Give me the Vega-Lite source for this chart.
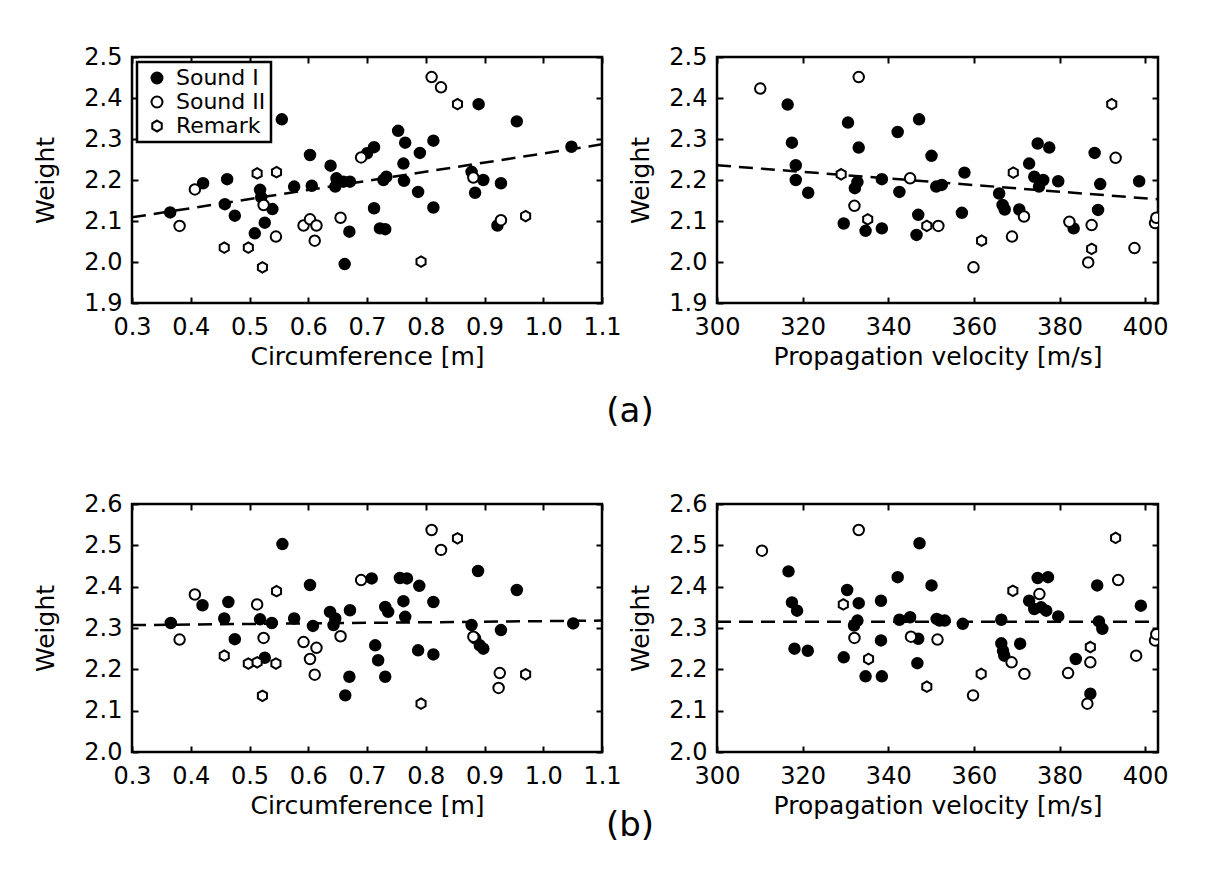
{
  "$schema": "https://vega.github.io/schema/vega-lite/v6.json",
  "background": "white",
  "padding": {"left": 32, "top": 43, "right": 5, "bottom": 5},
  "config": {
    "font": "DejaVu Sans",
    "view": {"stroke": "black", "strokeWidth": 2.5},
    "axis": {"grid": false, "domain": false, "ticks": true, "tickSize": -6, "tickWidth": 2, "tickColor": "black", "labelFont": "DejaVu Sans", "labelFontSize": 24, "labelColor": "black", "labelPadding": 16, "labelOverlap": false, "labelFlush": false, "titleFont": "DejaVu Sans", "titleFontSize": 25, "titleFontWeight": "normal", "titleColor": "black"},
    "axisX": {"titlePadding": 5, "labelPadding": 18},
    "axisY": {"titlePadding": 15},
    "legend": {"labelFont": "DejaVu Sans", "labelFontSize": 22, "labelColor": "black", "strokeColor": "black", "strokeWidth": 2.5, "fillColor": "white", "padding": 5, "rowPadding": 2, "symbolSize": 120, "symbolStrokeWidth": 2, "symbolOffset": 4, "labelOffset": 8, "cornerRadius": 0},
    "title": {"font": "DejaVu Sans", "fontWeight": "normal", "color": "black"}
  },
  "bounds": "flush",
  "columns": 2,
  "spacing": {"row": 201, "column": 115},
  "resolve": {"scale": {"fill": "independent", "shape": "independent", "stroke": "independent"}},
  "concat": [
    {
      "width": 470, "height": 246,
      "title": {"text": "(a)", "orient": "bottom", "anchor": "end", "align": "center", "frame": "group", "fontSize": 34, "offset": 26, "dx": 28},
      "resolve": {"axis": {"x": "independent", "y": "independent"}},
      "layer": [
        {
          "data": {"name": "tl_line"},
          "mark": {"type": "line", "color": "black", "strokeWidth": 2.5, "strokeDash": [14, 8], "clip": true},
          "encoding": {
            "x": {"field": "x", "type": "quantitative", "scale": {"domain": [0.3, 1.1], "nice": false, "zero": false}, "axis": {"orient": "bottom", "values": [0.3,0.4,0.5,0.6,0.7,0.8,0.9,1.0,1.1], "format": ".1f", "title": "Circumference [m]"}},
            "y": {"field": "y", "type": "quantitative", "scale": {"domain": [1.9, 2.5], "nice": false, "zero": false}, "axis": {"orient": "left", "values": [1.9,2.0,2.1,2.2,2.3,2.4,2.5], "format": ".1f", "title": "Weight", "titlePadding": 25}}
          }
        },
        {
          "data": {"name": "tl_pts"},
          "mark": {"type": "point", "filled": true, "strokeWidth": 2, "size": 110, "opacity": 1, "clip": true},
          "encoding": {
            "x": {"field": "x", "type": "quantitative", "scale": {"domain": [0.3, 1.1], "nice": false, "zero": false}, "axis": {"orient": "top", "values": [0.3,0.4,0.5,0.6,0.7,0.8,0.9,1.0,1.1], "labels": false, "title": null}},
            "y": {"field": "y", "type": "quantitative", "scale": {"domain": [1.9, 2.5], "nice": false, "zero": false}, "axis": {"orient": "right", "values": [1.9,2.0,2.1,2.2,2.3,2.4,2.5], "labels": false, "title": null}},
            "fill": {"field": "t", "type": "nominal", "scale": {"domain": ["Sound I", "Sound II", "Remark"], "range": ["black", "white", "white"]}, "legend": {"orient": "top-left", "offset": 5, "title": null}},
            "stroke": {"field": "t", "type": "nominal", "scale": {"domain": ["Sound I", "Sound II", "Remark"], "range": ["black", "black", "black"]}, "legend": {"orient": "top-left", "offset": 5, "title": null}},
            "shape": {"field": "t", "type": "nominal", "scale": {"domain": ["Sound I", "Sound II", "Remark"], "range": ["circle", "circle", "M0,-1L0.866,-0.5L0.866,0.5L0,1L-0.866,0.5L-0.866,-0.5Z"]}, "legend": {"orient": "top-left", "offset": 5, "title": null}}
          }
        }
      ]
    },
    {
      "width": 441, "height": 246,
      "resolve": {"axis": {"x": "independent", "y": "independent"}},
      "layer": [
        {
          "data": {"name": "tr_line"},
          "mark": {"type": "line", "color": "black", "strokeWidth": 2.5, "strokeDash": [14, 8], "clip": true},
          "encoding": {
            "x": {"field": "x", "type": "quantitative", "scale": {"domain": [300, 403], "nice": false, "zero": false}, "axis": {"orient": "bottom", "values": [300,320,340,360,380,400], "title": "Propagation velocity [m/s]"}},
            "y": {"field": "y", "type": "quantitative", "scale": {"domain": [1.9, 2.5], "nice": false, "zero": false}, "axis": {"orient": "left", "values": [1.9,2.0,2.1,2.2,2.3,2.4,2.5], "format": ".1f", "title": "Weight"}}
          }
        },
        {
          "data": {"name": "tr_pts"},
          "mark": {"type": "point", "filled": true, "strokeWidth": 2, "size": 110, "opacity": 1, "clip": true},
          "encoding": {
            "x": {"field": "x", "type": "quantitative", "scale": {"domain": [300, 403], "nice": false, "zero": false}, "axis": {"orient": "top", "values": [300,320,340,360,380,400], "labels": false, "title": null}},
            "y": {"field": "y", "type": "quantitative", "scale": {"domain": [1.9, 2.5], "nice": false, "zero": false}, "axis": {"orient": "right", "values": [1.9,2.0,2.1,2.2,2.3,2.4,2.5], "labels": false, "title": null}},
            "fill": {"field": "t", "type": "nominal", "scale": {"domain": ["Sound I", "Sound II", "Remark"], "range": ["black", "white", "white"]}, "legend": null},
            "stroke": {"field": "t", "type": "nominal", "scale": {"domain": ["Sound I", "Sound II", "Remark"], "range": ["black", "black", "black"]}, "legend": null},
            "shape": {"field": "t", "type": "nominal", "scale": {"domain": ["Sound I", "Sound II", "Remark"], "range": ["circle", "circle", "M0,-1L0.866,-0.5L0.866,0.5L0,1L-0.866,0.5L-0.866,-0.5Z"]}, "legend": null}
          }
        }
      ]
    },
    {
      "width": 470, "height": 248,
      "title": {"text": "(b)", "orient": "bottom", "anchor": "end", "align": "center", "frame": "group", "fontSize": 34, "offset": -9, "dx": 28},
      "resolve": {"axis": {"x": "independent", "y": "independent"}},
      "layer": [
        {
          "data": {"name": "bl_line"},
          "mark": {"type": "line", "color": "black", "strokeWidth": 2.5, "strokeDash": [14, 8], "clip": true},
          "encoding": {
            "x": {"field": "x", "type": "quantitative", "scale": {"domain": [0.3, 1.1], "nice": false, "zero": false}, "axis": {"orient": "bottom", "values": [0.3,0.4,0.5,0.6,0.7,0.8,0.9,1.0,1.1], "format": ".1f", "title": "Circumference [m]"}},
            "y": {"field": "y", "type": "quantitative", "scale": {"domain": [2.0, 2.6], "nice": false, "zero": false}, "axis": {"orient": "left", "values": [2.0,2.1,2.2,2.3,2.4,2.5,2.6], "format": ".1f", "title": "Weight", "titlePadding": 25}}
          }
        },
        {
          "data": {"name": "bl_pts"},
          "mark": {"type": "point", "filled": true, "strokeWidth": 2, "size": 110, "opacity": 1, "clip": true},
          "encoding": {
            "x": {"field": "x", "type": "quantitative", "scale": {"domain": [0.3, 1.1], "nice": false, "zero": false}, "axis": {"orient": "top", "values": [0.3,0.4,0.5,0.6,0.7,0.8,0.9,1.0,1.1], "labels": false, "title": null}},
            "y": {"field": "y", "type": "quantitative", "scale": {"domain": [2.0, 2.6], "nice": false, "zero": false}, "axis": {"orient": "right", "values": [2.0,2.1,2.2,2.3,2.4,2.5,2.6], "labels": false, "title": null}},
            "fill": {"field": "t", "type": "nominal", "scale": {"domain": ["Sound I", "Sound II", "Remark"], "range": ["black", "white", "white"]}, "legend": null},
            "stroke": {"field": "t", "type": "nominal", "scale": {"domain": ["Sound I", "Sound II", "Remark"], "range": ["black", "black", "black"]}, "legend": null},
            "shape": {"field": "t", "type": "nominal", "scale": {"domain": ["Sound I", "Sound II", "Remark"], "range": ["circle", "circle", "M0,-1L0.866,-0.5L0.866,0.5L0,1L-0.866,0.5L-0.866,-0.5Z"]}, "legend": null}
          }
        }
      ]
    },
    {
      "width": 441, "height": 248,
      "resolve": {"axis": {"x": "independent", "y": "independent"}},
      "layer": [
        {
          "data": {"name": "br_line"},
          "mark": {"type": "line", "color": "black", "strokeWidth": 2.5, "strokeDash": [14, 8], "clip": true},
          "encoding": {
            "x": {"field": "x", "type": "quantitative", "scale": {"domain": [300, 403], "nice": false, "zero": false}, "axis": {"orient": "bottom", "values": [300,320,340,360,380,400], "title": "Propagation velocity [m/s]"}},
            "y": {"field": "y", "type": "quantitative", "scale": {"domain": [2.0, 2.6], "nice": false, "zero": false}, "axis": {"orient": "left", "values": [2.0,2.1,2.2,2.3,2.4,2.5,2.6], "format": ".1f", "title": "Weight"}}
          }
        },
        {
          "data": {"name": "br_pts"},
          "mark": {"type": "point", "filled": true, "strokeWidth": 2, "size": 110, "opacity": 1, "clip": true},
          "encoding": {
            "x": {"field": "x", "type": "quantitative", "scale": {"domain": [300, 403], "nice": false, "zero": false}, "axis": {"orient": "top", "values": [300,320,340,360,380,400], "labels": false, "title": null}},
            "y": {"field": "y", "type": "quantitative", "scale": {"domain": [2.0, 2.6], "nice": false, "zero": false}, "axis": {"orient": "right", "values": [2.0,2.1,2.2,2.3,2.4,2.5,2.6], "labels": false, "title": null}},
            "fill": {"field": "t", "type": "nominal", "scale": {"domain": ["Sound I", "Sound II", "Remark"], "range": ["black", "white", "white"]}, "legend": null},
            "stroke": {"field": "t", "type": "nominal", "scale": {"domain": ["Sound I", "Sound II", "Remark"], "range": ["black", "black", "black"]}, "legend": null},
            "shape": {"field": "t", "type": "nominal", "scale": {"domain": ["Sound I", "Sound II", "Remark"], "range": ["circle", "circle", "M0,-1L0.866,-0.5L0.866,0.5L0,1L-0.866,0.5L-0.866,-0.5Z"]}, "legend": null}
          }
        }
      ]
    }
  ],
  "datasets": {
    "tl_line": [{"x": 0.3, "y": 2.109}, {"x": 1.1, "y": 2.287}],
    "tr_line": [{"x": 300, "y": 2.236}, {"x": 403, "y": 2.153}],
    "bl_line": [{"x": 0.3, "y": 2.307}, {"x": 1.1, "y": 2.318}],
    "br_line": [{"x": 300, "y": 2.315}, {"x": 403, "y": 2.315}],
    "tl_pts": [
      {"x": 0.365, "y": 2.121, "t": "Sound I"}, {"x": 0.421, "y": 2.192, "t": "Sound I"}, {"x": 0.462, "y": 2.202, "t": "Sound I"},
      {"x": 0.458, "y": 2.141, "t": "Sound I"}, {"x": 0.475, "y": 2.113, "t": "Sound I"}, {"x": 0.518, "y": 2.176, "t": "Sound I"},
      {"x": 0.520, "y": 2.158, "t": "Sound I"}, {"x": 0.539, "y": 2.129, "t": "Sound I"}, {"x": 0.526, "y": 2.096, "t": "Sound I"},
      {"x": 0.509, "y": 2.070, "t": "Sound I"}, {"x": 0.555, "y": 2.348, "t": "Sound I"}, {"x": 0.576, "y": 2.184, "t": "Sound I"},
      {"x": 0.606, "y": 2.186, "t": "Sound I"}, {"x": 0.603, "y": 2.261, "t": "Sound I"}, {"x": 0.638, "y": 2.235, "t": "Sound I"},
      {"x": 0.648, "y": 2.204, "t": "Sound I"}, {"x": 0.660, "y": 2.196, "t": "Sound I"}, {"x": 0.671, "y": 2.196, "t": "Sound I"},
      {"x": 0.646, "y": 2.184, "t": "Sound I"}, {"x": 0.670, "y": 2.074, "t": "Sound I"}, {"x": 0.662, "y": 1.995, "t": "Sound I"},
      {"x": 0.700, "y": 2.265, "t": "Sound I"}, {"x": 0.712, "y": 2.280, "t": "Sound I"}, {"x": 0.753, "y": 2.320, "t": "Sound I"},
      {"x": 0.765, "y": 2.291, "t": "Sound I"}, {"x": 0.790, "y": 2.266, "t": "Sound I"}, {"x": 0.813, "y": 2.296, "t": "Sound I"},
      {"x": 0.762, "y": 2.240, "t": "Sound I"}, {"x": 0.733, "y": 2.208, "t": "Sound I"}, {"x": 0.728, "y": 2.200, "t": "Sound I"},
      {"x": 0.763, "y": 2.198, "t": "Sound I"}, {"x": 0.787, "y": 2.171, "t": "Sound I"}, {"x": 0.813, "y": 2.133, "t": "Sound I"},
      {"x": 0.712, "y": 2.131, "t": "Sound I"}, {"x": 0.722, "y": 2.082, "t": "Sound I"}, {"x": 0.731, "y": 2.080, "t": "Sound I"},
      {"x": 0.890, "y": 2.385, "t": "Sound I"}, {"x": 0.955, "y": 2.343, "t": "Sound I"}, {"x": 1.048, "y": 2.281, "t": "Sound I"},
      {"x": 0.878, "y": 2.220, "t": "Sound I"}, {"x": 0.898, "y": 2.200, "t": "Sound I"}, {"x": 0.884, "y": 2.169, "t": "Sound I"},
      {"x": 0.928, "y": 2.192, "t": "Sound I"}, {"x": 0.922, "y": 2.089, "t": "Sound I"},
      {"x": 0.407, "y": 2.177, "t": "Sound II"}, {"x": 0.381, "y": 2.088, "t": "Sound II"}, {"x": 0.457, "y": 2.035, "t": "Remark"},
      {"x": 0.498, "y": 2.035, "t": "Remark"}, {"x": 0.522, "y": 1.987, "t": "Remark"}, {"x": 0.513, "y": 2.216, "t": "Remark"},
      {"x": 0.546, "y": 2.219, "t": "Remark"}, {"x": 0.524, "y": 2.139, "t": "Sound II"}, {"x": 0.545, "y": 2.062, "t": "Sound II"},
      {"x": 0.592, "y": 2.089, "t": "Sound II"}, {"x": 0.603, "y": 2.104, "t": "Sound II"}, {"x": 0.614, "y": 2.089, "t": "Sound II"},
      {"x": 0.611, "y": 2.052, "t": "Sound II"}, {"x": 0.655, "y": 2.108, "t": "Sound II"}, {"x": 0.690, "y": 2.255, "t": "Sound II"},
      {"x": 0.810, "y": 2.451, "t": "Sound II"}, {"x": 0.826, "y": 2.426, "t": "Sound II"}, {"x": 0.854, "y": 2.385, "t": "Remark"},
      {"x": 0.881, "y": 2.206, "t": "Sound II"}, {"x": 0.928, "y": 2.102, "t": "Sound II"}, {"x": 0.970, "y": 2.112, "t": "Remark"},
      {"x": 0.792, "y": 2.001, "t": "Remark"}
    ],
    "tr_pts": [
      {"x": 316.5, "y": 2.384, "t": "Sound I"}, {"x": 317.5, "y": 2.291, "t": "Sound I"}, {"x": 318.4, "y": 2.236, "t": "Sound I"},
      {"x": 318.4, "y": 2.200, "t": "Sound I"}, {"x": 321.3, "y": 2.169, "t": "Sound I"}, {"x": 330.6, "y": 2.340, "t": "Sound I"},
      {"x": 333.1, "y": 2.279, "t": "Sound I"}, {"x": 332.8, "y": 2.195, "t": "Sound I"}, {"x": 332.2, "y": 2.180, "t": "Sound I"},
      {"x": 329.6, "y": 2.094, "t": "Sound I"}, {"x": 334.7, "y": 2.076, "t": "Sound I"}, {"x": 338.5, "y": 2.082, "t": "Sound I"},
      {"x": 338.5, "y": 2.202, "t": "Sound I"}, {"x": 342.2, "y": 2.317, "t": "Sound I"}, {"x": 342.6, "y": 2.171, "t": "Sound I"},
      {"x": 347.2, "y": 2.348, "t": "Sound I"}, {"x": 350.1, "y": 2.259, "t": "Sound I"}, {"x": 347.0, "y": 2.115, "t": "Sound I"},
      {"x": 346.6, "y": 2.066, "t": "Sound I"}, {"x": 351.2, "y": 2.184, "t": "Sound I"}, {"x": 352.5, "y": 2.188, "t": "Sound I"},
      {"x": 357.8, "y": 2.218, "t": "Sound I"}, {"x": 357.2, "y": 2.120, "t": "Sound I"}, {"x": 365.9, "y": 2.167, "t": "Sound I"},
      {"x": 366.7, "y": 2.139, "t": "Sound I"}, {"x": 367.2, "y": 2.128, "t": "Sound I"}, {"x": 370.6, "y": 2.128, "t": "Sound I"},
      {"x": 372.9, "y": 2.240, "t": "Sound I"}, {"x": 374.1, "y": 2.208, "t": "Sound I"}, {"x": 374.9, "y": 2.289, "t": "Sound I"},
      {"x": 377.6, "y": 2.279, "t": "Sound I"}, {"x": 375.2, "y": 2.184, "t": "Sound I"}, {"x": 376.2, "y": 2.200, "t": "Sound I"},
      {"x": 379.7, "y": 2.197, "t": "Sound I"}, {"x": 383.3, "y": 2.082, "t": "Sound I"}, {"x": 388.2, "y": 2.266, "t": "Sound I"},
      {"x": 389.5, "y": 2.190, "t": "Sound I"}, {"x": 389.0, "y": 2.127, "t": "Sound I"}, {"x": 398.6, "y": 2.197, "t": "Sound I"},
      {"x": 310.1, "y": 2.423, "t": "Sound II"}, {"x": 333.1, "y": 2.451, "t": "Sound II"}, {"x": 329.0, "y": 2.214, "t": "Remark"},
      {"x": 332.1, "y": 2.137, "t": "Sound II"}, {"x": 335.2, "y": 2.104, "t": "Remark"}, {"x": 345.1, "y": 2.204, "t": "Sound II"},
      {"x": 349.0, "y": 2.088, "t": "Remark"}, {"x": 351.7, "y": 2.088, "t": "Sound II"}, {"x": 359.9, "y": 1.987, "t": "Sound II"},
      {"x": 361.8, "y": 2.052, "t": "Remark"}, {"x": 369.2, "y": 2.218, "t": "Remark"}, {"x": 368.9, "y": 2.062, "t": "Sound II"},
      {"x": 371.7, "y": 2.111, "t": "Sound II"}, {"x": 382.3, "y": 2.098, "t": "Sound II"}, {"x": 387.5, "y": 2.090, "t": "Sound II"},
      {"x": 387.5, "y": 2.032, "t": "Remark"}, {"x": 386.7, "y": 1.999, "t": "Sound II"}, {"x": 392.2, "y": 2.385, "t": "Remark"},
      {"x": 393.1, "y": 2.254, "t": "Sound II"}, {"x": 397.5, "y": 2.034, "t": "Sound II"}, {"x": 402.3, "y": 2.095, "t": "Sound II"},
      {"x": 402.6, "y": 2.108, "t": "Sound II"}
    ],
    "bl_pts": [
      {"x": 0.366, "y": 2.312, "t": "Sound I"}, {"x": 0.420, "y": 2.355, "t": "Sound I"}, {"x": 0.464, "y": 2.363, "t": "Sound I"},
      {"x": 0.457, "y": 2.323, "t": "Sound I"}, {"x": 0.475, "y": 2.273, "t": "Sound I"}, {"x": 0.556, "y": 2.503, "t": "Sound I"},
      {"x": 0.518, "y": 2.321, "t": "Sound I"}, {"x": 0.538, "y": 2.312, "t": "Sound I"}, {"x": 0.526, "y": 2.228, "t": "Sound I"},
      {"x": 0.576, "y": 2.323, "t": "Sound I"}, {"x": 0.603, "y": 2.404, "t": "Sound I"}, {"x": 0.608, "y": 2.305, "t": "Sound I"},
      {"x": 0.637, "y": 2.339, "t": "Sound I"}, {"x": 0.646, "y": 2.323, "t": "Sound I"}, {"x": 0.643, "y": 2.307, "t": "Sound I"},
      {"x": 0.671, "y": 2.343, "t": "Sound I"}, {"x": 0.670, "y": 2.182, "t": "Sound I"}, {"x": 0.663, "y": 2.137, "t": "Sound I"},
      {"x": 0.708, "y": 2.420, "t": "Sound I"}, {"x": 0.756, "y": 2.421, "t": "Sound I"}, {"x": 0.768, "y": 2.420, "t": "Sound I"},
      {"x": 0.789, "y": 2.402, "t": "Sound I"}, {"x": 0.762, "y": 2.365, "t": "Sound I"}, {"x": 0.813, "y": 2.363, "t": "Sound I"},
      {"x": 0.731, "y": 2.351, "t": "Sound I"}, {"x": 0.736, "y": 2.339, "t": "Sound I"}, {"x": 0.765, "y": 2.327, "t": "Sound I"},
      {"x": 0.714, "y": 2.258, "t": "Sound I"}, {"x": 0.719, "y": 2.222, "t": "Sound I"}, {"x": 0.731, "y": 2.182, "t": "Sound I"},
      {"x": 0.787, "y": 2.246, "t": "Sound I"}, {"x": 0.813, "y": 2.236, "t": "Sound I"}, {"x": 0.889, "y": 2.438, "t": "Sound I"},
      {"x": 0.955, "y": 2.392, "t": "Sound I"}, {"x": 1.051, "y": 2.311, "t": "Sound I"}, {"x": 0.878, "y": 2.307, "t": "Sound I"},
      {"x": 0.884, "y": 2.275, "t": "Sound I"}, {"x": 0.892, "y": 2.258, "t": "Sound I"}, {"x": 0.898, "y": 2.250, "t": "Sound I"},
      {"x": 0.928, "y": 2.295, "t": "Sound I"},
      {"x": 0.407, "y": 2.381, "t": "Sound II"}, {"x": 0.381, "y": 2.272, "t": "Sound II"}, {"x": 0.457, "y": 2.233, "t": "Remark"},
      {"x": 0.498, "y": 2.214, "t": "Remark"}, {"x": 0.513, "y": 2.217, "t": "Remark"}, {"x": 0.545, "y": 2.214, "t": "Remark"},
      {"x": 0.522, "y": 2.136, "t": "Remark"}, {"x": 0.513, "y": 2.357, "t": "Sound II"}, {"x": 0.546, "y": 2.389, "t": "Remark"},
      {"x": 0.524, "y": 2.276, "t": "Sound II"}, {"x": 0.592, "y": 2.266, "t": "Sound II"}, {"x": 0.614, "y": 2.252, "t": "Sound II"},
      {"x": 0.603, "y": 2.225, "t": "Sound II"}, {"x": 0.611, "y": 2.187, "t": "Sound II"}, {"x": 0.655, "y": 2.280, "t": "Sound II"},
      {"x": 0.690, "y": 2.416, "t": "Sound II"}, {"x": 0.810, "y": 2.537, "t": "Sound II"}, {"x": 0.826, "y": 2.489, "t": "Sound II"},
      {"x": 0.854, "y": 2.517, "t": "Remark"}, {"x": 0.881, "y": 2.279, "t": "Sound II"}, {"x": 0.926, "y": 2.191, "t": "Sound II"},
      {"x": 0.924, "y": 2.155, "t": "Sound II"}, {"x": 0.970, "y": 2.188, "t": "Remark"}, {"x": 0.792, "y": 2.117, "t": "Remark"}
    ],
    "br_pts": [
      {"x": 316.7, "y": 2.437, "t": "Sound I"}, {"x": 317.5, "y": 2.362, "t": "Sound I"}, {"x": 318.7, "y": 2.342, "t": "Sound I"},
      {"x": 318.1, "y": 2.250, "t": "Sound I"}, {"x": 321.2, "y": 2.245, "t": "Sound I"}, {"x": 330.4, "y": 2.392, "t": "Sound I"},
      {"x": 333.1, "y": 2.360, "t": "Sound I"}, {"x": 332.8, "y": 2.318, "t": "Sound I"}, {"x": 332.0, "y": 2.306, "t": "Sound I"},
      {"x": 329.6, "y": 2.229, "t": "Sound I"}, {"x": 334.7, "y": 2.183, "t": "Sound I"}, {"x": 338.5, "y": 2.183, "t": "Sound I"},
      {"x": 338.3, "y": 2.366, "t": "Sound I"}, {"x": 338.3, "y": 2.270, "t": "Sound I"}, {"x": 342.2, "y": 2.423, "t": "Sound I"},
      {"x": 342.6, "y": 2.320, "t": "Sound I"}, {"x": 345.1, "y": 2.326, "t": "Sound I"}, {"x": 347.3, "y": 2.505, "t": "Sound I"},
      {"x": 350.1, "y": 2.403, "t": "Sound I"}, {"x": 347.0, "y": 2.274, "t": "Sound I"}, {"x": 346.8, "y": 2.215, "t": "Sound I"},
      {"x": 351.3, "y": 2.322, "t": "Sound I"}, {"x": 352.0, "y": 2.318, "t": "Sound I"}, {"x": 353.2, "y": 2.318, "t": "Sound I"},
      {"x": 357.4, "y": 2.310, "t": "Sound I"}, {"x": 366.4, "y": 2.320, "t": "Sound I"}, {"x": 366.4, "y": 2.263, "t": "Sound I"},
      {"x": 366.8, "y": 2.245, "t": "Sound I"}, {"x": 367.1, "y": 2.233, "t": "Sound I"}, {"x": 370.8, "y": 2.262, "t": "Sound I"},
      {"x": 372.9, "y": 2.366, "t": "Sound I"}, {"x": 374.9, "y": 2.421, "t": "Sound I"}, {"x": 377.3, "y": 2.423, "t": "Sound I"},
      {"x": 374.1, "y": 2.346, "t": "Sound I"}, {"x": 375.7, "y": 2.350, "t": "Sound I"}, {"x": 376.9, "y": 2.342, "t": "Sound I"},
      {"x": 379.7, "y": 2.328, "t": "Sound I"}, {"x": 383.8, "y": 2.225, "t": "Sound I"}, {"x": 388.8, "y": 2.403, "t": "Sound I"},
      {"x": 389.2, "y": 2.316, "t": "Sound I"}, {"x": 390.0, "y": 2.298, "t": "Sound I"}, {"x": 387.2, "y": 2.141, "t": "Sound I"},
      {"x": 399.0, "y": 2.354, "t": "Sound I"},
      {"x": 310.5, "y": 2.487, "t": "Sound II"}, {"x": 333.1, "y": 2.537, "t": "Sound II"}, {"x": 329.5, "y": 2.357, "t": "Remark"},
      {"x": 332.1, "y": 2.276, "t": "Sound II"}, {"x": 335.4, "y": 2.225, "t": "Remark"}, {"x": 345.3, "y": 2.279, "t": "Sound II"},
      {"x": 349.0, "y": 2.158, "t": "Remark"}, {"x": 351.5, "y": 2.272, "t": "Sound II"}, {"x": 359.8, "y": 2.137, "t": "Sound II"},
      {"x": 361.7, "y": 2.189, "t": "Remark"}, {"x": 369.1, "y": 2.390, "t": "Remark"}, {"x": 368.8, "y": 2.217, "t": "Sound II"},
      {"x": 371.8, "y": 2.189, "t": "Sound II"}, {"x": 375.3, "y": 2.382, "t": "Sound II"}, {"x": 382.0, "y": 2.191, "t": "Sound II"},
      {"x": 387.2, "y": 2.254, "t": "Remark"}, {"x": 387.2, "y": 2.217, "t": "Sound II"}, {"x": 386.5, "y": 2.117, "t": "Sound II"},
      {"x": 393.1, "y": 2.518, "t": "Remark"}, {"x": 393.7, "y": 2.416, "t": "Sound II"}, {"x": 397.9, "y": 2.233, "t": "Sound II"},
      {"x": 402.3, "y": 2.270, "t": "Sound II"}, {"x": 402.6, "y": 2.285, "t": "Sound II"}
    ]
  }
}
